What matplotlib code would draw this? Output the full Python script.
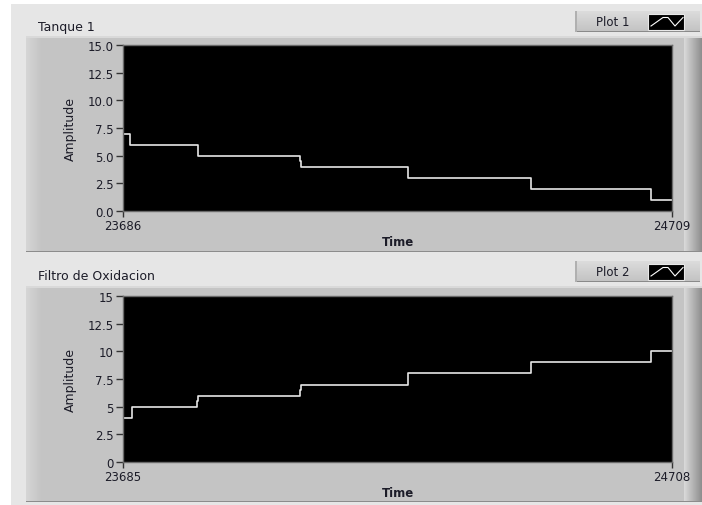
import numpy as np
import matplotlib
matplotlib.use("Agg")
import matplotlib.pyplot as plt
from matplotlib.patches import Rectangle
from matplotlib.colors import LinearSegmentedColormap

# ---------------- data ----------------
tank_title = "Tanque 1"
tank_legend = "Plot 1"
tank_x = [23686, 23699, 23826, 24016, 24018, 24217, 24446, 24670, 24709]
tank_y = [7, 6, 5, 4.5, 4, 3, 2, 1, 1]
tank_xlim = [23686, 24709]
tank_yticks = [0.0, 2.5, 5.0, 7.5, 10.0, 12.5, 15.0]
tank_yticklabels = ["0.0", "2.5", "5.0", "7.5", "10.0", "12.5", "15.0"]

filt_title = "Filtro de Oxidacion"
filt_legend = "Plot 2"
filt_x = [23685, 23701, 23823, 23825, 24015, 24017, 24216, 24445, 24669, 24708]
filt_y = [4, 5, 5.5, 6, 6.5, 7, 8, 9, 10, 10]
filt_xlim = [23685, 24708]
filt_yticks = [0, 2.5, 5, 7.5, 10, 12.5, 15]
filt_yticklabels = ["0", "2.5", "5", "7.5", "10", "12.5", "15"]

x_label = "Time"
y_label = "Amplitude"

# ---------------- figure ----------------
W, H = 702, 506
fig = plt.figure(figsize=(W / 100, H / 100), dpi=100, facecolor="white")
bg = fig.add_axes([0, 0, 1, 1], zorder=0)
bg.set_axis_off()

FONT = "DejaVu Sans"
TXT = "#1c1c28"


def grad(ax, x0, x1, y0, y1, c0, c1, horizontal=True, z=1):
    cmap = LinearSegmentedColormap.from_list("g", [c0, c1])
    arr = np.linspace(0, 1, 64)
    arr = arr.reshape(1, -1) if horizontal else arr.reshape(-1, 1)
    ax.imshow(arr, cmap=cmap, extent=(x0, x1, y1, y0), aspect="auto",
              interpolation="bilinear", zorder=z)


def rect(ax, x0, y0, x1, y1, color, z=1, ec="none", lw=0):
    ax.add_patch(Rectangle((x0, y0), x1 - x0, y1 - y0, facecolor=color,
                           edgecolor=ec, linewidth=lw, zorder=z))


# outer light background
rect(bg, 11, 5, W, H, "#e6e6e6", z=0.5)


def panel(top, bottom, title, legend):
    # main panel
    rect(bg, 26, top, W, bottom, "#c4c4c4", z=1)
    # left lighter strip
    grad(bg, 26, 42, top, bottom, "#d6d6d6", "#c4c4c4", z=1.1)
    # right cylinder-like strip
    grad(bg, 684, W, top, bottom, "#dadada", "#8e8e8e", z=1.1)
    # top highlight / bottom shadow
    rect(bg, 26, top, W, top + 1.5, "#d9d9d9", z=1.2)
    rect(bg, 26, bottom - 1.5, W, bottom, "#8c8c8c", z=1.2)
    # title
    bg.text(38, top - 10, title, fontsize=9, family=FONT, color=TXT,
            ha="left", va="center", zorder=3)
    # legend button
    ly0, ly1 = top - 25, top - 4
    grad(bg, 575, 700, ly0, ly1, "#dcdcdc", "#c2c2c2", horizontal=False, z=2)
    rect(bg, 575, ly1 - 1.2, 700, ly1, "#8a8a8a", z=2.1)
    rect(bg, 575, ly0, 576.5, ly1, "#b0b0b0", z=2.1)
    bg.text(613, (ly0 + ly1) / 2, legend, fontsize=8.5, family=FONT, color=TXT,
            ha="center", va="center", zorder=3)
    iy0, iy1 = ly0 + 2.5, ly1 - 2
    rect(bg, 648, iy0, 684, iy1, "black", z=2.5, ec="#e8e8e8", lw=0.8)
    yt, yb = iy0 + 4, iy1 - 4
    bg.plot([651, 663, 668, 675, 683], [yb, yt, yt, yb, yt], color="white",
            lw=0.8, zorder=2.6)


panel(37, 253, tank_title, tank_legend)
panel(287, 503, filt_title, filt_legend)

bg.set_xlim(0, W)
bg.set_ylim(H, 0)


def chart(top_px, bot_px, xs, ys, xlim, yticks, yticklabels, time_y):
    left_px, right_px = 123, 672
    ax = fig.add_axes([left_px / W, 1 - bot_px / H, (right_px - left_px) / W,
                       (bot_px - top_px) / H], zorder=5)
    ax.set_facecolor("black")
    ax.step(xs, ys, where="post", color="#e6e6e6", lw=1.2)
    ax.set_xlim(xlim)
    ax.set_ylim(0, 15)
    ax.set_yticks(yticks)
    ax.set_yticklabels(yticklabels, family=FONT, fontsize=8.5, color=TXT)
    ax.set_xticks(xlim)
    ax.set_xticklabels([str(v) for v in xlim], family=FONT, fontsize=8.5,
                       color=TXT)
    ax.tick_params(axis="y", direction="out", length=5, width=1,
                   color="#333333", pad=1.5)
    ax.tick_params(axis="x", direction="out", length=4, width=1,
                   color="#333333", pad=2)
    for s in ax.spines.values():
        s.set_color("#6a6a6a")
        s.set_linewidth(1)
    ax.set_ylabel(y_label, family=FONT, fontsize=9, color=TXT, labelpad=8)
    fig.text(398 / W, 1 - time_y / H, x_label, family=FONT, fontsize=8.5,
             fontweight="bold", color=TXT, ha="center", va="center", zorder=6)
    return ax


ax1 = chart(46, 212, tank_x, tank_y, tank_xlim, tank_yticks,
            tank_yticklabels, 243)
ax2 = chart(297, 463, filt_x, filt_y, filt_xlim, filt_yticks,
            filt_yticklabels, 494)

fig.savefig("out.png", dpi=100, facecolor="white")
